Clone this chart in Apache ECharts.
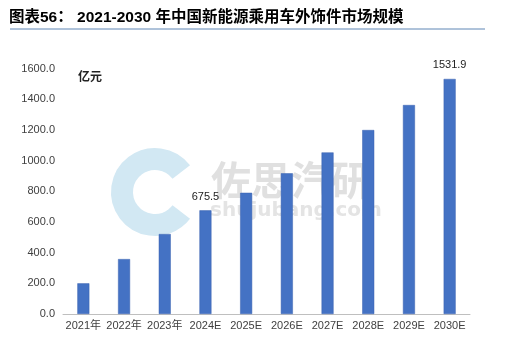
<!DOCTYPE html>
<html><head><meta charset="utf-8">
<script src="https://cdn.jsdelivr.net/npm/echarts@6/dist/echarts.min.js"></script>
<style>html,body{margin:0;padding:0;background:#fff}#c{width:507px;height:355px}</style>
</head><body><div id="c"></div>
<script>
var categories = ['2021年','2022年','2023年','2024E','2025E','2026E','2027E','2028E','2029E','2030E'];
var values = [200, 358, 521, 675.5, 790, 917, 1053, 1199, 1362, 1531.9];
var labeledIdx = [3, 9];
var yTicks = {min: 0, max: 1600, interval: 200};
var titleText = '图表56： 2021-2030 年中国新能源乘用车外饰件市场规模';
var unitText = '亿元';

var chart = echarts.init(document.getElementById('c'), null, {renderer: 'canvas'});
var font = '"Liberation Sans", "Noto Sans CJK SC", sans-serif';
chart.setOption({
  animation: false,
  backgroundColor: '#fff',
  grid: {left: 63, right: 37, top: 68.5, bottom: 41},
  graphic: [
    {type: 'text', left: 9, top: 10, style: {text: titleText, font: 'bold 15.5px "Liberation Sans", "Noto Sans CJK SC", sans-serif', fill: '#000'}},
    {type: 'line', shape: {x1: 10, y1: 29, x2: 485, y2: 29}, style: {stroke: '#5f86b5', lineWidth: 1}},
    {type: 'text', left: 78, top: 70, style: {text: unitText, font: 'bold 12px "Noto Sans CJK SC", sans-serif', fill: '#222'}},
    {type: 'arc', z: -1, shape: {cx: 155, cy: 192, r: 33, startAngle: -0.65, endAngle: 0.65, clockwise: false}, style: {stroke: '#d2e8f3', lineWidth: 22, fill: null}},
    {type: 'text', z: -1, left: 211, top: 160, style: {text: '佐思汽研', font: 'bold 40px "Noto Sans CJK SC", sans-serif', fill: '#e0e0e0'}},
    {type: 'text', z: -1, left: 210, top: 201, style: {text: 'shujubang.com', font: 'bold 20px "DejaVu Sans", sans-serif', fill: '#e4e4e4'}}
  ],
  xAxis: {
    type: 'category', data: categories,
    axisLine: {lineStyle: {color: '#bfbfbf'}},
    axisTick: {show: false},
    axisLabel: {color: '#404040', fontSize: 11, fontFamily: font, margin: 6, interval: 0}
  },
  yAxis: {
    type: 'value', min: yTicks.min, max: yTicks.max, interval: yTicks.interval,
    splitLine: {show: false},
    axisLine: {show: false}, axisTick: {show: false},
    axisLabel: {color: '#404040', fontSize: 11, fontFamily: font, margin: 8,
      formatter: function (v) { return v.toFixed(1); }}
  },
  series: [{
    type: 'bar', barWidth: 12,
    itemStyle: {color: '#4472C4', borderColor: '#3a62b0', borderWidth: 0.5},
    data: values.map(function (v, i) {
      return {value: v, label: {show: labeledIdx.indexOf(i) >= 0, position: 'top', distance: 8,
        color: '#222', fontSize: 11, fontFamily: font,
        formatter: function (p) { return p.value.toFixed(1); }}};
    })
  }]
});
</script></body></html>
